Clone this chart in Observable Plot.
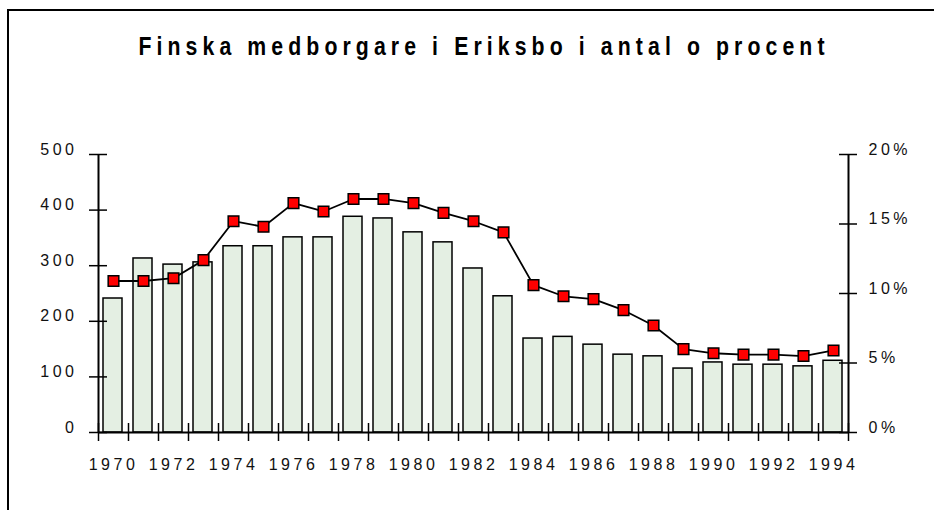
<!DOCTYPE html>
<html>
<head>
<meta charset="utf-8">
<script src="https://cdn.jsdelivr.net/npm/d3@7"></script>
<script src="https://cdn.jsdelivr.net/npm/@observablehq/plot@0.6"></script>
<style>
  body { margin: 0; background: #fff; }
  #wrap { position: relative; width: 934px; height: 510px; overflow: hidden; background: #fff; }
  #frame { position: absolute; left: 7px; top: 9px; width: 1000px; height: 600px;
           border-top: 2px solid #000; border-left: 2px solid #000; box-sizing: border-box; }
  #chart { position: absolute; left: 0; top: 0; }
  #title { position: absolute; left: 0; top: 31px; width: 968px; text-align: center;
           font-family: "Liberation Sans", Arial, sans-serif; font-weight: bold; font-size: 25px;
           line-height: 30px; letter-spacing: 6px; color: #000; white-space: nowrap;
           transform: scaleX(0.85); transform-origin: 484px 0; }
  #chart svg text { font-size: 16px; letter-spacing: 3.5px; }
</style>
</head>
<body>
<div id="wrap">
  <div id="frame"></div>
  <div id="chart"></div>
  <div id="title">Finska medborgare i Eriksbo i antal o procent</div>
</div>
<script>
const years = [1970,1971,1972,1973,1974,1975,1976,1977,1978,1979,1980,1981,1982,1983,1984,1985,1986,1987,1988,1989,1990,1991,1992,1993,1994];
const counts = [241,313,302,306,335,335,351,351,388,385,360,342,295,245,169,172,158,140,137,115,126,122,122,119,129];
const percents = [10.9,10.9,11.1,12.4,15.2,14.8,16.5,15.9,16.8,16.8,16.5,15.8,15.2,14.4,10.6,9.8,9.6,8.8,7.7,6.0,5.7,5.6,5.6,5.5,5.9];
const countTicks = [0,100,200,300,400,500];
const percentTicks = [0,5,10,15,20];
const yearLabels = [1970,1972,1974,1976,1978,1980,1982,1984,1986,1988,1990,1992,1994];

// the right-hand percent axis shares the left scale: 20 % ↔ 500
const K = 500 / 20;
const rows = years.map((y, i) => ({year: y, count: counts[i], pct: percents[i]}));
const bounds = d3.range(years.length + 1).map(i => years[0] - 0.5 + i);
const x0 = bounds[0], x1 = bounds[bounds.length - 1];

const chart = Plot.plot({
  width: 934,
  height: 510,
  marginLeft: 98,
  marginRight: 86,
  marginTop: 154,
  marginBottom: 78,
  style: {fontFamily: "'Liberation Sans', Arial, sans-serif", fontSize: "16px", letterSpacing: "3.5px", color: "#111", background: "transparent"},
  x: {type: "linear", domain: [x0, x1]},
  y: {domain: [0, 500]},
  marks: [
    Plot.rectY(rows, {x1: d => d.year - 0.5, x2: d => d.year + 0.5, y: "count",
      insetLeft: 5, insetRight: 6, fill: "#e4efe3", stroke: "#000", strokeWidth: 1.5}),
    // axis lines
    Plot.ruleY([0], {stroke: "#000", strokeWidth: 2}),
    Plot.ruleX([x0, x1], {stroke: "#000", strokeWidth: 2}),
    // crossing ticks
    Plot.ruleX(bounds, {y1: 0, y2: 0, insetTop: -9, insetBottom: -9, stroke: "#000", strokeWidth: 1.5}),
    Plot.ruleY(countTicks, {x1: x0, x2: x0, insetLeft: -9, insetRight: -9, stroke: "#000", strokeWidth: 1.5}),
    Plot.ruleY(percentTicks.map(p => p * K), {x1: x1, x2: x1, insetLeft: -9, insetRight: -9, stroke: "#000", strokeWidth: 1.5}),
    // line + markers
    Plot.line(rows, {x: "year", y: d => d.pct * K, stroke: "#000", strokeWidth: 1.8}),
    Plot.dot(rows, {x: "year", y: d => d.pct * K, symbol: "square", r: 6, fill: "#ff0000", stroke: "#000", strokeWidth: 1.5}),
    // axes labels
    Plot.axisY(countTicks, {anchor: "left", tickSize: 0, tickPadding: 21, dy: -5, label: null}),
    Plot.axisY(percentTicks.map(p => p * K), {anchor: "right", tickSize: 0, tickPadding: 20, dy: -5, label: null,
      tickFormat: v => `${v / K}%`}),
    Plot.axisX(yearLabels, {anchor: "bottom", tickSize: 0, tickPadding: 26, label: null, tickFormat: d => String(d)})
  ]
});
document.getElementById("chart").appendChild(chart);
</script>
</body>
</html>
